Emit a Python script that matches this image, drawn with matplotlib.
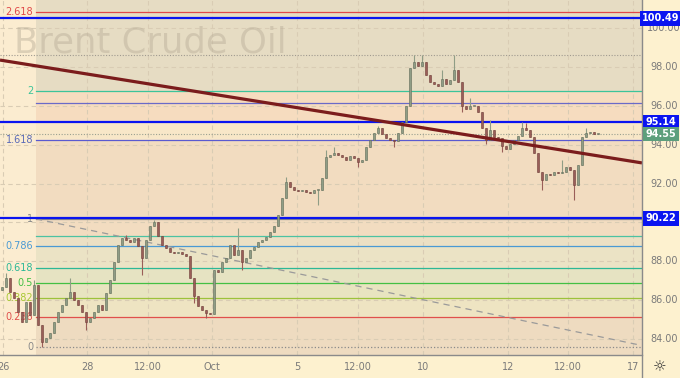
import numpy as np
import matplotlib.pyplot as plt

# closes, one every 4 px of the reference (4H-ish candles)
closes = [86.68, 87.14, 86.42, 86.11, 85.39, 84.88, 85.91, 85.24, 86.78, 84.72,
          83.85, 84.05, 84.31, 84.88, 85.39, 85.75, 86.11, 86.42, 86.01, 85.75,
          85.39, 84.88, 85.08, 85.39, 85.75, 85.49, 86.37, 87.04, 87.96, 88.84,
          89.20, 89.09, 88.99, 89.20, 88.79, 88.17, 89.09, 89.81, 90.02, 89.30,
          88.84, 88.68, 88.48, 88.43, 88.48, 88.37, 88.27, 87.14, 86.21, 85.70,
          85.49, 85.34, 85.29, 87.55, 87.45, 87.96, 88.17, 88.84, 88.32, 88.58,
          87.96, 88.17, 88.58, 88.73, 88.99, 89.09, 89.25, 89.51, 89.81, 90.38,
          91.26, 92.08, 91.82, 91.67, 91.62, 91.67, 91.56, 91.51, 91.67, 91.67,
          92.28, 93.36, 93.47, 93.57, 93.47, 93.36, 93.21, 93.42, 93.31, 93.11,
          93.21, 93.88, 94.24, 94.60, 94.86, 94.55, 94.34, 94.24, 94.19, 94.60,
          95.16, 95.99, 97.94, 98.25, 98.05, 98.25, 97.58, 97.22, 97.12, 97.02,
          97.38, 97.12, 97.33, 97.84, 97.22, 95.99, 95.83, 95.99, 95.99, 95.68,
          94.86, 94.24, 94.75, 94.39, 94.34, 93.93, 93.78, 94.03, 94.24, 94.44,
          94.86, 94.75, 94.39, 93.57, 92.59, 92.18, 92.49, 92.44, 92.59, 92.54,
          92.59, 92.85, 92.70, 91.92, 92.95, 94.39, 94.60, 94.65, 94.55, 94.55]
first_open = 86.50

# candles with visible wicks beyond the body
high_spikes = {1: 87.40, 8: 87.04, 17: 87.14, 31: 89.35, 38: 90.12, 59: 89.71,
               71: 92.34, 81: 93.72, 83: 93.88, 94: 94.96, 103: 98.61, 105: 98.61,
               110: 97.84, 113: 98.61, 117: 96.40, 122: 95.27, 130: 95.16,
               131: 95.11, 140: 93.21, 146: 94.86}
low_spikes = {10: 83.59, 21: 84.47, 35: 87.29, 48: 85.85, 51: 85.08, 60: 87.55,
              79: 90.90, 89: 92.85, 98: 93.88, 115: 95.68, 121: 94.03,
              125: 93.62, 135: 91.67, 143: 91.15}

x_labels = ['26', '28', '12:00', 'Oct', '5', '12:00', '10', '12', '12:00', '17']
x_tick_pos = [0.25, 21.25, 36.5, 52.5, 73.75, 89, 105.25, 126.5, 141.5, 157.75]
y_ticks = [84, 86, 88, 90, 92, 94, 96, 98, 100]

# fibonacci retracement tool
fib_low, fib_high = 83.6, 90.18
fib_levels = [0, 0.236, 0.382, 0.5, 0.618, 0.786, 1, 1.618, 2, 2.618]
fib_colors = ['#8a8a8a', '#e0504c', '#9cc23a', '#43c043', '#2cb896', '#4a9ad4',
              '#8a8a8a', '#5a5ad0', '#3cc49a', '#e04848']
fib_label_colors = ['#8a8a8a', '#e0504c', '#a8c832', '#43c043', '#2cb896', '#4a9ad4',
                    '#8a8a8a', '#5a6ab8', '#3cc49a', '#e04848']
extra_lines = [(89.3, '#4cc2a2'), (96.14, '#6a6ac8')]

# key levels with price tags
key_levels = [100.49, 95.14, 90.22]
last_price = 94.55
swing_high = 98.61

# drawings
trend_x = [-0.5, 160.0]
trend_p = [98.35, 93.06]
dash_x = [8.5, 159.5]
dash_p = [90.18, 83.69]

# background zones (price bounds, colour)
zones = [(83.18, 85.15, '#eedbc0'), (85.15, 86.12, '#eee4c2'), (86.12, 86.9, '#e8e4c0'),
         (86.9, 87.67, '#e6e3c2'), (87.67, 88.77, '#ebe3c5'), (88.77, 89.3, '#ece0c4'),
         (89.3, 90.18, '#f2dcc0'), (90.18, 94.25, '#f2dcc0'), (94.25, 95.14, '#f8e7c8'),
         (95.14, 96.76, '#f6dcbf'), (96.76, 101.44, '#e6dcc3')]

fig = plt.figure(figsize=(6.8, 3.78), dpi=100)
fig.patch.set_facecolor('#fdf1cf')
ax = fig.add_axes([0, 23 / 378, 642 / 680, 355 / 378])
ax.set_facecolor('#fbecd0')
ax.set_xlim(-0.5, 160.0)
ax.set_ylim(83.18, 101.44)

for lo, hi, col in zones:
    ax.fill_between([8.5, 160], lo, hi, color=col, lw=0, zorder=0)

for p in y_ticks:
    ax.axhline(p, color='#d9ccb4', lw=0.8, ls=(0, (4, 3)), zorder=1)
for xp in x_tick_pos:
    ax.axvline(xp, color='#d9ccb4', lw=0.8, ls=(0, (4, 3)), zorder=1)

ax.text(3.0, 99.25, 'Brent Crude Oil', fontsize=25.5, color='#b8ad98', alpha=0.45,
        va='center', ha='left', zorder=1)

rng = fib_high - fib_low
for lvl, col, lcol in zip(fib_levels, fib_colors, fib_label_colors):
    p = fib_low + lvl * rng
    ls = ':' if lvl == 0 else '-'
    ax.plot([8.5, 160], [p, p], color=col, lw=0.9, ls=ls, zorder=2)
    lab = '{:g}'.format(lvl)
    ax.text(7.8, p, lab, color=lcol, fontsize=7, ha='right', va='center', zorder=3)
for p, col in extra_lines:
    ax.plot([8.5, 160], [p, p], color=col, lw=0.9, zorder=2)

ax.axhline(swing_high, color='#a09a90', lw=0.8, ls=(0, (1, 1.5)), zorder=2)
ax.axhline(last_price, color='#9aa090', lw=0.8, ls=(0, (1, 1.5)), zorder=2)

for p in key_levels:
    ax.axhline(p, color='#0a14f0', lw=1.6, zorder=4)

ax.plot(dash_x, dash_p, color='#9a9a9a', lw=0.9, ls=(0, (5, 4)), zorder=2)

# candles
opens = [first_open] + closes[:-1]
for i, (o, c) in enumerate(zip(opens, closes)):
    up = c >= o
    col = '#8f9d86' if up else '#9a5e58'
    hi = high_spikes.get(i, max(o, c))
    lo = low_spikes.get(i, min(o, c))
    ax.vlines(i, lo, hi, color=col, lw=0.8, zorder=5)
    h = abs(c - o)
    if h < 0.04:
        h = 0.04
    ax.bar(i, h, bottom=min(o, c), width=0.55, color=col,
           edgecolor='#5f6a58' if up else '#6e3f3a', lw=0.4, zorder=5)

ax.plot(trend_x, trend_p, color='#7b1c1c', lw=2.3, solid_capstyle='butt', zorder=6)

for s in ax.spines.values():
    s.set_visible(False)
ax.set_xticks([])
ax.set_yticks([])

# right price scale and time scale borders
fig.add_artist(plt.Line2D([642 / 680, 642 / 680], [0, 1], color='#8a8a8a', lw=1.0))
fig.add_artist(plt.Line2D([0, 642 / 680], [23 / 378, 23 / 378], color='#8a8a8a', lw=1.0))


def y2fig(p):
    return 23 / 378 + (p - 83.18) / (101.44 - 83.18) * 355 / 378


for p in y_ticks:
    # tick labels hidden under a price tag are not drawn
    if min(abs(p - k) for k in key_levels) < 0.3:
        continue
    fig.text(664 / 680, y2fig(p), '{:.2f}'.format(p), fontsize=7, color='#7a7a7a',
             ha='center', va='center')

for p in key_levels:
    fig.text(661 / 680, y2fig(p), '{:.2f}'.format(p), fontsize=7, color='white',
             fontweight='bold', ha='center', va='center',
             bbox=dict(boxstyle='square,pad=0.25', fc='#0a14f0', ec='none'))
fig.text(661 / 680, y2fig(last_price), '{:.2f}'.format(last_price), fontsize=7, color='white',
         fontweight='bold', ha='center', va='center',
         bbox=dict(boxstyle='square,pad=0.25', fc='#5d9f7c', ec='none'))

for xp, lab in zip(x_tick_pos, x_labels):
    fx = (xp + 0.5) * 4 / 680
    fig.text(fx, 11 / 378, lab, fontsize=7, color='#7a7a7a', ha='center', va='center')

fig.text(660 / 680, 11 / 378, '\u263c', fontsize=11, color='#333333', ha='center', va='center')

fig.savefig('out.png', dpi=100, facecolor=fig.get_facecolor())
